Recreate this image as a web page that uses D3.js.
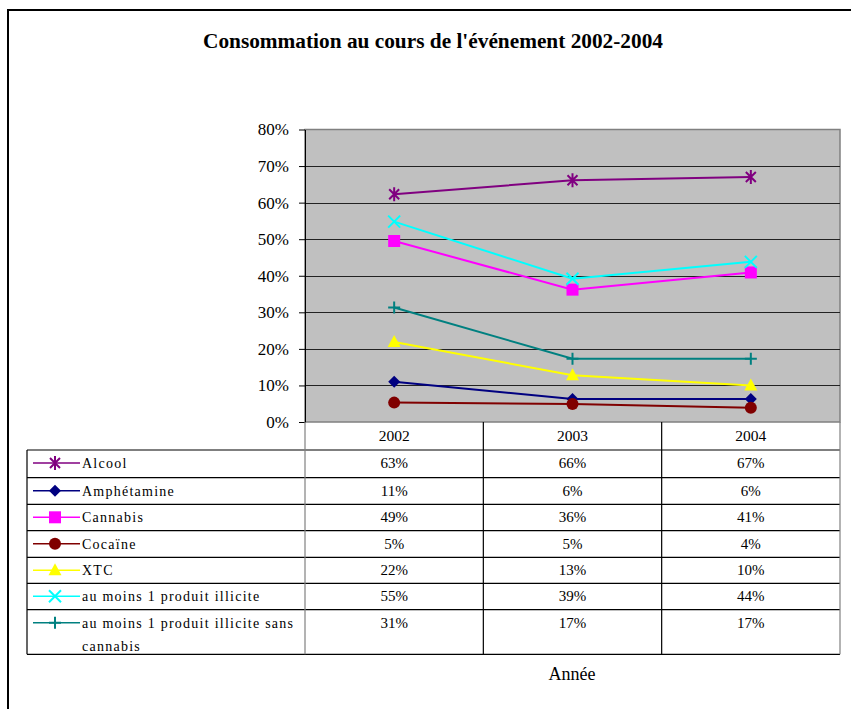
<!DOCTYPE html>
<html>
<head>
<meta charset="utf-8">
<script src="https://cdn.jsdelivr.net/npm/d3@7"></script>
<style>
  body { margin: 0; background: #fff; }
  svg text { font-family: 'Liberation Serif', 'DejaVu Serif', 'Times New Roman', Times, serif !important; }
</style>
</head>
<body>
<div id="chart"></div>
<script>
// Chart data
const years = ["2002", "2003", "2004"];
const seriesNames = ["Alcool", "Amphétamine", "Cannabis", "Cocaïne", "XTC",
  "au moins 1 produit illicite", "au moins 1 produit illicite sans cannabis"];
const alcool = [0.623, 0.661, 0.670];
const amphetamine = [0.110, 0.063, 0.063];
const cannabis = [0.495, 0.362, 0.409];
const cocaine = [0.053, 0.049, 0.039];
const xtc = [0.219, 0.128, 0.100];
const auMoins1 = [0.548, 0.392, 0.438];
const auMoins1SansCannabis = [0.313, 0.173, 0.173];
const tableLabels = [
  ["63%", "66%", "67%"],
  ["11%", "6%", "6%"],
  ["49%", "36%", "41%"],
  ["5%", "5%", "4%"],
  ["22%", "13%", "10%"],
  ["55%", "39%", "44%"],
  ["31%", "17%", "17%"]
];
const yTicks = [0, 0.1, 0.2, 0.3, 0.4, 0.5, 0.6, 0.7, 0.8];

const seriesValues = [alcool, amphetamine, cannabis, cocaine, xtc, auMoins1, auMoins1SansCannabis];
const colors = ["#800080", "#000080", "#ff00ff", "#800000", "#ffff00", "#00ffff", "#008080"];
const markers = ["star", "diamond", "square", "circle", "triangle", "x", "plus"];

const W = 851, H = 709;
const svg = d3.select("#chart").append("svg")
  .attr("width", W).attr("height", H);

// outer frame
svg.append("rect")
  .attr("x", 8).attr("y", 10).attr("width", W).attr("height", H)
  .attr("fill", "none").attr("stroke", "#000").attr("stroke-width", 2);

svg.append("text")
  .attr("x", 433).attr("y", 48)
  .attr("text-anchor", "middle")
  .attr("font-size", 20).attr("font-weight", "bold")
  .attr("textLength", 460).attr("lengthAdjust", "spacingAndGlyphs")
  .text("Consommation au cours de l'événement 2002-2004");

// plot area
const plot = { left: 305, right: 840, top: 129.5, bottom: 422 };
const x = d3.scaleBand().domain(years).range([plot.left, plot.right]);
const xc = d => x(d) + x.bandwidth() / 2;
const y = d3.scaleLinear().domain([0, 0.8]).range([plot.bottom, plot.top]);

svg.append("rect")
  .attr("x", plot.left).attr("y", plot.top)
  .attr("width", plot.right - plot.left).attr("height", plot.bottom - plot.top)
  .attr("fill", "#c0c0c0").attr("stroke", "#808080").attr("stroke-width", 1.5);

svg.selectAll(".grid").data(yTicks.slice(1, -1)).enter().append("line")
  .attr("x1", plot.left).attr("x2", plot.right)
  .attr("y1", d => Math.round(y(d)) + 0.5).attr("y2", d => Math.round(y(d)) + 0.5)
  .attr("stroke", "#222").attr("stroke-width", 1);

const yAxis = d3.axisLeft(y).tickValues(yTicks).tickFormat(d3.format(".0%"))
  .tickSize(6).tickSizeOuter(0);
const gy = svg.append("g").attr("transform", `translate(${plot.left},0)`).call(yAxis);
gy.attr("font-family", null);
gy.select(".domain").attr("stroke", "#000");
gy.selectAll(".tick line").attr("stroke", "#000");
gy.selectAll(".tick text")
  .attr("font-size", 17).attr("fill", "#000").attr("x", -16);

// lines and markers
const line = d3.line().x((d, i) => xc(years[i])).y(d => y(d));
const symbolPath = {
  diamond: "M0,-6L6,0L0,6L-6,0Z",
  square: "M-6,-6H6V6H-6Z",
  triangle: "M0,-7L6.5,5L-6.5,5Z",
  star: "M-5,-5L5,5M-5,5L5,-5M0,-7V7",
  x: "M-6,-6L6,6M-6,6L6,-6",
  plus: "M-6,0H6M0,-6V6"
};
function drawMarker(g, type, color, scale) {
  if (type === "circle") {
    g.append("circle").attr("r", 6 * scale).attr("fill", color);
  } else if (type === "star" || type === "x" || type === "plus") {
    g.append("path").attr("d", symbolPath[type]).attr("transform", `scale(${scale})`)
      .attr("fill", "none").attr("stroke", color).attr("stroke-width", 2 / scale);
  } else {
    g.append("path").attr("d", symbolPath[type]).attr("transform", `scale(${scale})`)
      .attr("fill", color);
  }
}

seriesValues.forEach((vals, s) => {
  svg.append("path").datum(vals)
    .attr("d", line).attr("fill", "none")
    .attr("stroke", colors[s]).attr("stroke-width", 2);
});
seriesValues.forEach((vals, s) => {
  vals.forEach((v, i) => {
    const g = svg.append("g").attr("transform", `translate(${xc(years[i])},${y(v)})`);
    drawMarker(g, markers[s], colors[s], 1);
  });
});

// data table
const tableLeft = 27;
const rowTops = [422, 450, 477.7, 504.3, 530.7, 557.3, 583.3, 609.7, 654.3];
const tg = svg.append("g");
rowTops.slice(1).forEach(ry => {
  tg.append("line").attr("x1", tableLeft).attr("x2", plot.right)
    .attr("y1", ry).attr("y2", ry).attr("stroke", "#000").attr("stroke-width", 1.2);
});
tg.append("line").attr("x1", tableLeft).attr("x2", tableLeft)
  .attr("y1", rowTops[1]).attr("y2", rowTops[8]).attr("stroke", "#000").attr("stroke-width", 1.2);
years.concat(["end"]).forEach((yr, i) => {
  const vx = i < 3 ? x(yr) : plot.right;
  tg.append("line").attr("x1", vx).attr("x2", vx)
    .attr("y1", plot.bottom).attr("y2", rowTops[8])
    .attr("stroke", i === 0 || i === 3 ? "#808080" : "#000").attr("stroke-width", 1.2);
});
years.forEach(yr => {
  tg.append("text").attr("x", xc(yr)).attr("y", 441)
    .attr("text-anchor", "middle").attr("font-size", 15.5).text(yr);
});
seriesNames.forEach((name, s) => {
  const top = rowTops[s + 1];
  const my = top + 13;
  tg.append("line").attr("x1", 33).attr("x2", 80).attr("y1", my).attr("y2", my)
    .attr("stroke", colors[s]).attr("stroke-width", 1.5);
  const g = tg.append("g").attr("transform", `translate(55,${my})`);
  drawMarker(g, markers[s], colors[s], 1);
  const words = s === 6 ? ["au moins 1 produit illicite sans", "cannabis"] : [name];
  words.forEach((w, k) => {
    tg.append("text").attr("x", 82).attr("y", top + 18 + k * 23)
      .attr("font-size", 14).attr("letter-spacing", 1.25).text(w);
  });
  tableLabels[s].forEach((lab, i) => {
    tg.append("text").attr("x", xc(years[i])).attr("y", top + 18)
      .attr("text-anchor", "middle").attr("font-size", 15).text(lab);
  });
});

svg.append("text").attr("x", 572).attr("y", 680)
  .attr("text-anchor", "middle").attr("font-size", 18).text("Année");
</script>
</body>
</html>
